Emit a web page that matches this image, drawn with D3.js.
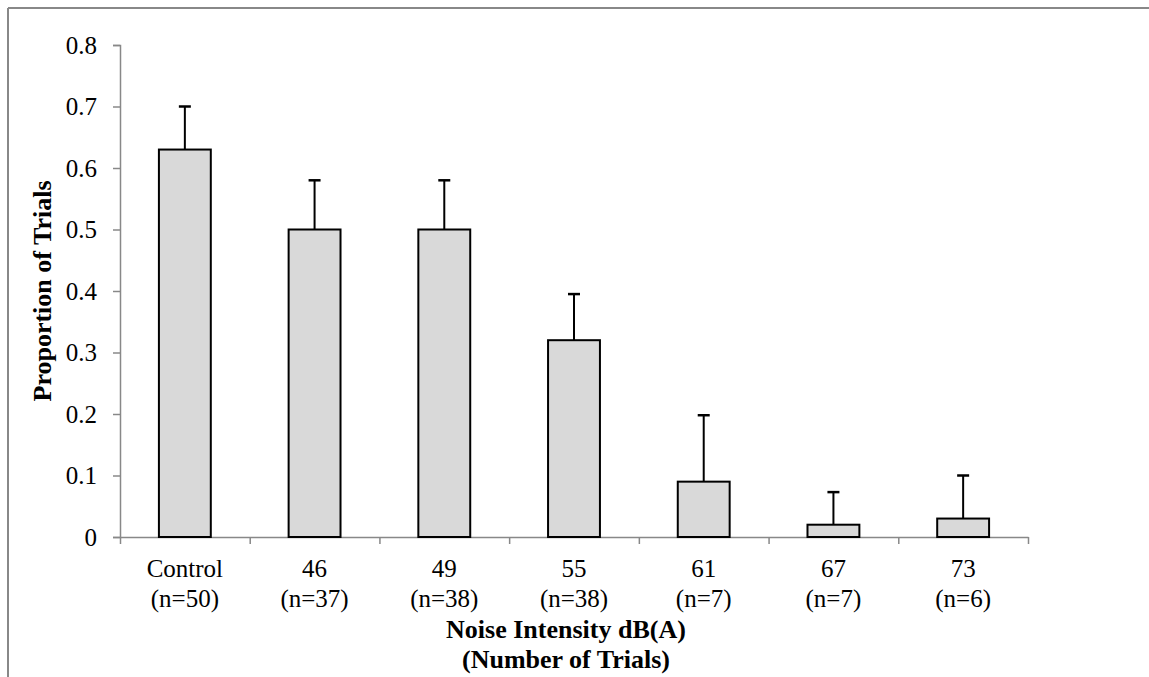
<!DOCTYPE html>
<html>
<head>
<meta charset="utf-8">
<script src="https://cdn.jsdelivr.net/npm/d3@7"></script>
<style>
  html, body { margin: 0; padding: 0; background: #fff; }
  svg { display: block; font-family: "Liberation Serif", "Times New Roman", serif; }
</style>
</head>
<body>
<svg id="chart" width="1149" height="677"></svg>
<script>
// data
var categories = ["Control", "46", "49", "55", "61", "67", "73"];
var trialCounts = ["(n=50)", "(n=37)", "(n=38)", "(n=38)", "(n=7)", "(n=7)", "(n=6)"];
var proportions = [0.63, 0.50, 0.50, 0.32, 0.09, 0.02, 0.03];
var errorTops   = [0.70, 0.58, 0.58, 0.395, 0.198, 0.073, 0.10];
var yTicks = [0, 0.1, 0.2, 0.3, 0.4, 0.5, 0.6, 0.7, 0.8];

var svg = d3.select("#chart");

// outer frame (only top + left edges show)
svg.append("line")
  .attr("x1", 8).attr("x2", 1149).attr("y1", 8).attr("y2", 8)
  .attr("stroke", "#888").attr("stroke-width", 2);
svg.append("line")
  .attr("x1", 8).attr("x2", 8).attr("y1", 8).attr("y2", 677)
  .attr("stroke", "#888").attr("stroke-width", 2);

var mLeft = 120, mRight = 1028, mTop = 45, mBottom = 537;

var x = d3.scaleBand()
  .domain(categories)
  .range([mLeft, mRight])
  .paddingInner(0.6)
  .paddingOuter(0.3);

var y = d3.scaleLinear()
  .domain([0, 0.8])
  .range([mBottom, mTop]);

// y axis
var yAxis = svg.append("g")
  .attr("transform", "translate(" + mLeft + ",0)")
  .call(d3.axisLeft(y).tickValues(yTicks).tickSize(7).tickPadding(16)
    .tickFormat(function(d) { return d === 0 ? "0" : d3.format(".1f")(d); }));
yAxis.select(".domain").attr("stroke", "#888").attr("stroke-width", 1.5);
yAxis.selectAll(".tick line").attr("stroke", "#888").attr("stroke-width", 1.5);
yAxis.selectAll("text")
  .style("font-family", "Liberation Serif")
  .style("font-size", "25px")
  .attr("fill", "#000");

// x axis: ticks sit on category boundaries
var xEdge = d3.scaleLinear().domain([0, categories.length]).range([mLeft, mRight]);
var xAxis = svg.append("g")
  .attr("transform", "translate(0," + mBottom + ")")
  .call(d3.axisBottom(xEdge).tickValues(d3.range(0, categories.length + 1))
    .tickSize(7).tickSizeOuter(0).tickFormat(""));
xAxis.select(".domain").attr("stroke", "#888").attr("stroke-width", 1.5);
xAxis.selectAll(".tick line").attr("stroke", "#888").attr("stroke-width", 1.5);

// bars
svg.append("g").selectAll("rect")
  .data(categories)
  .join("rect")
  .attr("x", function(d) { return x(d); })
  .attr("y", function(d, i) { return y(proportions[i]); })
  .attr("width", x.bandwidth())
  .attr("height", function(d, i) { return y(0) - y(proportions[i]); })
  .attr("fill", "#d9d9d9")
  .attr("stroke", "#000")
  .attr("stroke-width", 2);

// error bars (upper only)
var errG = svg.append("g");
categories.forEach(function(c, i) {
  var cx = x(c) + x.bandwidth() / 2;
  errG.append("line")
    .attr("x1", cx).attr("x2", cx)
    .attr("y1", y(proportions[i])).attr("y2", y(errorTops[i]))
    .attr("stroke", "#000").attr("stroke-width", 2);
  errG.append("line")
    .attr("x1", cx - 6).attr("x2", cx + 6)
    .attr("y1", y(errorTops[i])).attr("y2", y(errorTops[i]))
    .attr("stroke", "#000").attr("stroke-width", 2.5);
});

// category labels, two lines each
var labG = svg.append("g")
  .style("font-size", "25px")
  .attr("fill", "#000")
  .attr("text-anchor", "middle");
categories.forEach(function(c, i) {
  var cx = x(c) + x.bandwidth() / 2;
  labG.append("text").attr("x", cx).attr("y", 577).text(c);
  labG.append("text").attr("x", cx).attr("y", 607).text(trialCounts[i]);
});

// axis titles
svg.append("text")
  .attr("x", 566).attr("y", 638)
  .attr("text-anchor", "middle")
  .style("font-size", "26px").style("font-weight", "bold")
  .text("Noise Intensity dB(A)");
svg.append("text")
  .attr("x", 566).attr("y", 668)
  .attr("text-anchor", "middle")
  .style("font-size", "26px").style("font-weight", "bold")
  .text("(Number of Trials)");

svg.append("text")
  .attr("transform", "translate(51," + ((mTop + mBottom) / 2) + ") rotate(-90)")
  .attr("text-anchor", "middle")
  .style("font-size", "26px").style("font-weight", "bold")
  .text("Proportion of Trials");
</script>
</body>
</html>
